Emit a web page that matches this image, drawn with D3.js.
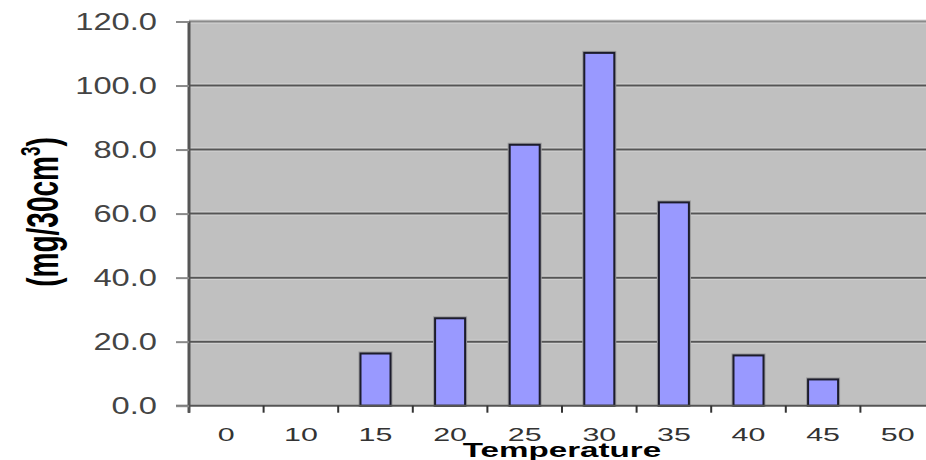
<!DOCTYPE html>
<html>
<head>
<meta charset="utf-8">
<script src="https://cdn.jsdelivr.net/npm/d3@7"></script>
<style>
  html, body { margin: 0; padding: 0; background: #fff; }
  svg { display: block; }
</style>
</head>
<body>
<svg id="chart" width="926" height="460"></svg>
<script>
const categories = ["0", "10", "15", "20", "25", "30", "35", "40", "45", "50"];
const values = [0, 0, 16.3, 27.3, 81.5, 110.2, 63.5, 15.7, 8.2, 0];
const yTicks = [0, 20, 40, 60, 80, 100, 120];
const xTitle = "Temperature";

const svg = d3.select("#chart");
const pLeft = 189, pRight = 935, pTop = 21.5, pBottom = 405.7;

const x = d3.scaleBand().domain(categories).range([pLeft, pRight]).padding(0);
const y = d3.scaleLinear().domain([0, 120]).range([pBottom, pTop]);

// plot background
svg.append("rect").attr("x", pLeft).attr("y", y(120)).attr("width", pRight - pLeft)
  .attr("height", y(0) - y(120)).attr("fill", "#c0c0c0");

// gridlines
const grid = svg.append("g");
grid.selectAll("line.halo").data(yTicks.filter(d => d > 0)).join("line")
  .attr("class", "halo")
  .attr("x1", pLeft).attr("x2", pRight).attr("y1", d => y(d)).attr("y2", d => y(d))
  .attr("stroke", "#d6d6d6").attr("stroke-width", 4);
grid.selectAll("line.g").data(yTicks.filter(d => d > 0)).join("line")
  .attr("class", "g")
  .attr("x1", pLeft).attr("x2", pRight).attr("y1", d => y(d)).attr("y2", d => y(d))
  .attr("stroke", d => d === 120 ? "#8a8a8a" : "#555").attr("stroke-width", 2);

// bars
const step = x.step();
const bw = 30;
const barData = categories.map((c, i) => ({c, v: values[i]})).filter(d => d.v > 0);
const bars = svg.append("g");
bars.selectAll("rect.shadow").data(barData)
  .join("rect").attr("class", "shadow")
  .attr("x", d => x(d.c) + step / 2 - bw / 2 - 1)
  .attr("y", d => y(d.v) - 1)
  .attr("width", bw + 2)
  .attr("height", d => y(0) - y(d.v) + 1)
  .attr("fill", "none").attr("stroke", "#9a9a9a").attr("stroke-width", 2);
bars.selectAll("rect.bar").data(barData)
  .join("rect").attr("class", "bar")
  .attr("x", d => x(d.c) + step / 2 - bw / 2)
  .attr("y", d => y(d.v))
  .attr("width", bw)
  .attr("height", d => y(0) - y(d.v))
  .attr("fill", "#9999ff").attr("stroke", "#1c1c2c").attr("stroke-width", 2);

// x baseline and ticks
svg.append("line").attr("x1", 176).attr("x2", pRight).attr("y1", y(0)).attr("y2", y(0))
  .attr("stroke", "#555").attr("stroke-width", 2);
svg.append("g").selectAll("line").data(categories).join("line")
  .attr("x1", d => x(d)).attr("x2", d => x(d))
  .attr("y1", y(0)).attr("y2", y(0) + 7)
  .attr("stroke", "#333").attr("stroke-width", 2);

// y axis line
svg.append("line").attr("x1", pLeft).attr("x2", pLeft).attr("y1", y(120)).attr("y2", y(0) + 7)
  .attr("stroke", "#555").attr("stroke-width", 3);

// y axis ticks and labels via d3 axis
const yAxis = svg.append("g").attr("transform", `translate(${pLeft},0)`)
  .call(d3.axisLeft(y).tickValues(yTicks).tickFormat(d3.format(".1f")).tickSize(13).tickPadding(0));
yAxis.select(".domain").remove();
yAxis.selectAll(".tick line").attr("stroke", "#8a8a8a").attr("stroke-width", 2);
yAxis.selectAll(".tick text")
  .attr("x", null).attr("dy", null)
  .attr("fill", "#444").attr("font-family", "Liberation Sans, Arial, sans-serif")
  .attr("font-size", 23).attr("text-anchor", "end").attr("dominant-baseline", "central")
  .attr("transform", "translate(-32,0) scale(1.42,1)");

// x labels via d3 axis
const xAxis = svg.append("g").attr("transform", `translate(0,${y(0)})`)
  .call(d3.axisBottom(x).tickSize(0).tickPadding(0));
xAxis.select(".domain").remove();
xAxis.selectAll(".tick text")
  .attr("y", null).attr("dy", null)
  .attr("fill", "#333").attr("font-family", "Liberation Sans, Arial, sans-serif")
  .attr("font-size", 19).attr("text-anchor", "middle")
  .attr("transform", "translate(0,35.5) scale(1.6,1)");

// x title
svg.append("text").attr("transform", `translate(${(pLeft + pRight) / 2},457) scale(1.58,1)`)
  .attr("text-anchor", "middle").attr("font-family", "Liberation Sans, Arial, sans-serif")
  .attr("font-weight", "bold").attr("font-size", 21).attr("fill", "#000").text(xTitle);

// y title
const yt = svg.append("text").attr("transform", "translate(58,212) scale(1.6,1) rotate(-90)")
  .attr("text-anchor", "middle").attr("font-family", "Liberation Sans Narrow, Liberation Sans, Arial, sans-serif")
  .attr("font-weight", "bold").attr("font-size", 28).attr("fill", "#000");
yt.append("tspan").text("(mg/30cm");
yt.append("tspan").attr("font-size", 17).attr("dy", -11).text("3");
yt.append("tspan").attr("dy", 11).text(")");
</script>
</body>
</html>
